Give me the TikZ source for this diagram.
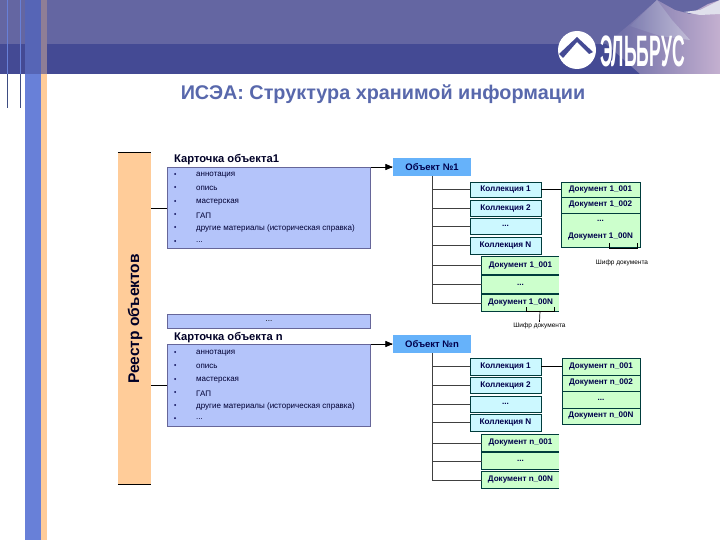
\documentclass[tikz,border=0pt]{standalone}
\usepackage{fontspec}
\setmainfont{Liberation Sans}
\usetikzlibrary{arrows}
\definecolor{hdrtop}{RGB}{100,102,162}
\definecolor{hdrlow}{RGB}{68,74,148}
\definecolor{bandblue}{RGB}{104,128,216}
\definecolor{bandorange}{RGB}{255,204,153}
\definecolor{titleblue}{RGB}{88,104,172}
\definecolor{cardblue}{RGB}{180,196,250}
\definecolor{objblue}{RGB}{102,178,250}
\definecolor{collblue}{RGB}{204,248,255}
\definecolor{docgreen}{RGB}{204,255,204}
\definecolor{edgegreen}{RGB}{0,60,60}
\definecolor{lilac}{RGB}{196,176,208}
\newcommand{\dotstext}{...}
\tikzset{
  cardbox/.style={draw=gray!80!blue,line width=0.8pt,fill=cardblue,anchor=north west,inner sep=0pt},
  cardtitle/.style={anchor=west,font=\bfseries\fontsize{11.2}{13}\selectfont,text=black!85!blue},
  carditem/.style={anchor=west,font=\fontsize{8}{10}\selectfont,text=black!80!blue},
  objbox/.style={fill=objblue,minimum width=78pt,minimum height=18pt,inner sep=0pt,font=\bfseries\fontsize{9.5}{11}\selectfont,text=black!70!blue},
  collbox/.style={draw=edgegreen,line width=0.9pt,fill=collblue,minimum width=71pt,inner sep=0pt,font=\bfseries\fontsize{8.2}{10}\selectfont,text=black!70!blue},
  docbox/.style={fill=docgreen,inner sep=0pt,font=\bfseries\fontsize{8.1}{10}\selectfont,text=black!70!blue},
  branch/.style={draw=black!75,line width=0.8pt},
  cipher/.style={font=\fontsize{6.5}{8}\selectfont,inner sep=0pt}
}
\begin{document}
\begin{tikzpicture}[x=1pt,y=-1pt]
\useasboundingbox (0,0) rectangle (720,540);
% header
\fill[hdrtop] (0,0) rectangle (720,44);
\fill[hdrlow] (0,44) rectangle (720,74);
% mountain
\shade[left color=hdrtop,right color=lilac] (606,44) -- (630,24) -- (648,8) -- (657,0) -- (675,10) -- (690,14) -- (708,4) -- (720,0) -- (720,74) -- (640,74) -- cycle;
\shade[left color=hdrtop!80!white,right color=white!70!hdrtop,opacity=0.6] (630,26) -- (657,0) -- (672,20) -- (690,40) -- (660,36) -- cycle;
\fill[white!80!hdrtop] (684,12) -- (700,10) -- (720,0) -- (720,14) -- (700,15) -- cycle;
% left stripes
\fill[bandblue] (25,74) rectangle (41,540);
\fill[bandblue!50!hdrlow] (25,0) rectangle (41,74);
\fill[bandorange] (41,74) rectangle (47,540);
\fill[bandorange!40!hdrlow] (41,0) rectangle (47,74);
\draw[bandblue!60!black,line width=0.7pt] (7,74) -- (7,108) (20,74) -- (20,108);
\draw[bandblue,line width=0.7pt] (7,0) -- (7,74) (20,0) -- (20,74);
% logo
\fill[white] (577,50) circle (19);
\fill[hdrlow] (559,54) -- (577,37) -- (593,52) -- (589,54) -- (577,42) -- (563,58) -- cycle;
\node[anchor=west,inner sep=0pt,text=white,font=\bfseries\fontsize{44}{44}\selectfont,xscale=0.4] (logotext) at (600,51) {ЭЛЬБРУС};
% title
\node[font=\bfseries\fontsize{19.8}{22}\selectfont,text=titleblue,inner sep=0pt] (title) at (383,94) {ИСЭА: Структура хранимой информации};
% registry band
\node[fill=bandorange,minimum width=33pt,minimum height=331pt,inner sep=0pt] (registry) at (134.5,318.5) {};
\node[rotate=90,font=\bfseries\fontsize{15.5}{18}\selectfont,text=black!85!blue,inner sep=0pt] (registrytext) at (135,319) {Реестр объектов};
\draw[line width=0.7pt] (registry.north west) -- (registry.north east);
\draw[line width=0.7pt] (registry.south west) -- (registry.south east);
% cards
\node[cardbox,minimum width=203pt,minimum height=81pt] (card1) at (167,167) {};
\node[cardbox,minimum width=203pt,minimum height=14pt,font=\fontsize{8}{10}\selectfont] (cardmid) at (167,314) {...};
\node[cardbox,minimum width=203pt,minimum height=82pt] (cardn) at (167,344) {};
\node[cardtitle,inner sep=0pt] (title1) at (174,159.5) {Карточка объекта1};
\node[cardtitle,inner sep=0pt] (titlen) at (174,337.5) {Карточка объекта n};
\foreach \y/\t in {174/аннотация,187/опись,201/мастерская,214/ГАП,227/другие материалы (историческая справка),241/\dotstext}{
  \fill[black!70!blue] (175,\y) circle (1);
  \node[carditem,inner sep=0pt] at (196,\y+1.5) {\t};
}
\foreach \y/\t in {352/аннотация,365/опись,379/мастерская,392/ГАП,405/другие материалы (историческая справка),418/\dotstext}{
  \fill[black!70!blue] (175,\y) circle (1);
  \node[carditem,inner sep=0pt] at (196,\y+1.5) {\t};
}
\draw[line width=0.7pt] (registry.east |- card1.west) -- (card1.west);
\draw[line width=0.7pt] (registry.east |- cardn.west) -- (cardn.west);
% objects
\node[objbox] (obj1) at (432,167) {Объект №1};
\node[objbox] (objn) at (432,344) {Объект №n};
\draw[->,>=triangle 45,line width=0.7pt] (card1.north east) -- (obj1.west);
\draw[->,>=triangle 45,line width=0.7pt] (cardn.north east) -- (objn.west);
% collections, object 1
\node[collbox,minimum height=15pt] (c11) at (505.5,189.5) {Коллекция 1};
\node[collbox,minimum height=16pt] (c12) at (505.5,208) {Коллекция 2};
\node[collbox,minimum height=16pt] (c13) at (505.5,226) {...};
\node[collbox,minimum height=17pt] (c14) at (505.5,245.5) {Коллекция N};
% collections, object n
\node[collbox,minimum height=17pt] (cn1) at (505.5,366.5) {Коллекция 1};
\node[collbox,minimum height=16pt] (cn2) at (505.5,385) {Коллекция 2};
\node[collbox,minimum height=16pt] (cn3) at (505.5,404) {...};
\node[collbox,minimum height=17pt] (cn4) at (505.5,422.5) {Коллекция N};
% documents under the trunk
\node[docbox,minimum width=77pt,minimum height=17pt] (d11) at (520.5,265.5) {Документ 1\_001};
\node[docbox,minimum width=77pt,minimum height=17pt] (d12) at (520.5,284.5) {...};
\node[docbox,minimum width=77pt,minimum height=16pt] (d13) at (520.5,303) {Документ 1\_00N};
\node[docbox,minimum width=77pt,minimum height=16pt] (dn1) at (520.5,443) {Документ n\_001};
\node[docbox,minimum width=77pt,minimum height=16pt] (dn2) at (520.5,461) {...};
\node[docbox,minimum width=77pt,minimum height=16pt] (dn3) at (520.5,480) {Документ n\_00N};
\foreach \d in {d11,d12,d13,dn1,dn2,dn3}
  \draw[edgegreen,line width=0.9pt] (\d.north east) -- (\d.north west) -- (\d.south west) -- (\d.south east);
% documents on the right
\node[docbox,draw=edgegreen,line width=0.9pt,minimum width=79pt,minimum height=15pt] (r11) at (600.5,189.5) {Документ 1\_001};
\node[docbox,draw=edgegreen,line width=0.9pt,minimum width=79pt,minimum height=16pt] (r12) at (600.5,205) {Документ 1\_002};
\node[docbox,draw=edgegreen,line width=0.9pt,minimum width=79pt,minimum height=34pt,align=center,font=\bfseries\fontsize{8.1}{17}\selectfont] (r13) at (600.5,230) {...\\Документ 1\_00N};
\node[docbox,draw=edgegreen,line width=0.9pt,minimum width=78pt,minimum height=17pt] (rn1) at (601,366.5) {Документ n\_001};
\node[docbox,draw=edgegreen,line width=0.9pt,minimum width=78pt,minimum height=16pt] (rn2) at (601,383) {Документ n\_002};
\node[docbox,draw=edgegreen,line width=0.9pt,minimum width=78pt,minimum height=17pt] (rn3) at (601,399.5) {...};
\node[docbox,draw=edgegreen,line width=0.9pt,minimum width=78pt,minimum height=16pt] (rn4) at (601,416) {Документ n\_00N};
% trunks
\coordinate (end1) at (432,303);
\coordinate (endn) at (432,480);
\draw[branch] (obj1.south) -- (end1 -| obj1.south);
\draw[branch] (objn.south) -- (endn -| objn.south);
\foreach \c in {c11,c12,c13,c14,d11,d12,d13}
  \draw[branch] (\c.west) -- (\c.west -| obj1.south);
\foreach \c in {cn1,cn2,cn3,cn4,dn1,dn2,dn3}
  \draw[branch] (\c.west) -- (\c.west -| objn.south);
\draw[line width=0.7pt] (c11.east) -- (r11.west);
\draw[line width=0.7pt] (cn1.east) -- (rn1.west);
% cipher labels
\node[cipher] (cipher1) at (622,263) {Шифр документа};
\node[cipher] (cipher2) at (539.5,326) {Шифр документа};
\coordinate (brace1) at (609,243);
\coordinate (brace2) at (637,243);
\coordinate (brace3) at (526,307);
\coordinate (brace4) at (554,307);
\draw[line width=0.7pt] (brace1) -- ++(0,5) -| (brace2);
\draw[line width=0.7pt] (brace3) -- ++(0,4) -| (brace4);
\draw[line width=0.7pt] (cipher2.north) ++(0,-1) -- (540,311);
\end{tikzpicture}
\end{document}
